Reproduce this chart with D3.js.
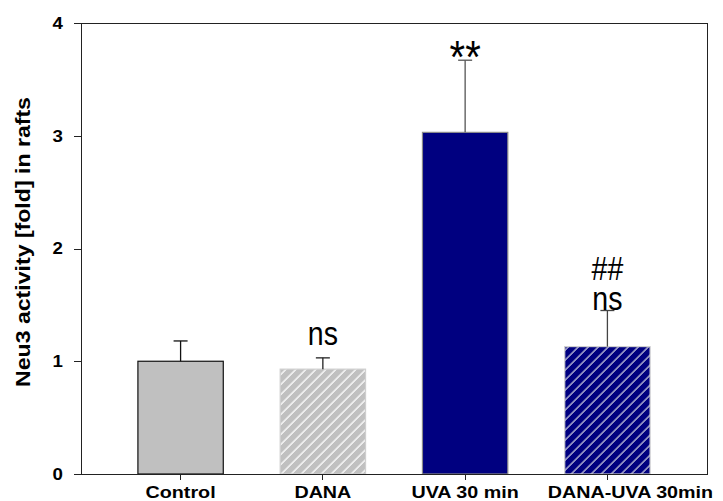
<!DOCTYPE html>
<html>
<head>
<meta charset="utf-8">
<script src="https://cdn.jsdelivr.net/npm/d3@7"></script>
<style>
  body { margin: 0; background: #fff; }
  .axis path, .axis line { stroke: #222; shape-rendering: crispEdges; }
  .axis text { font-family: "Liberation Sans", Arial, sans-serif; font-weight: bold; font-size: 17px; fill: #000; }
  .note { font-family: "Liberation Sans", Arial, sans-serif; fill: #000; }
</style>
</head>
<body>
<div id="chart"></div>
<script>
// data
var categories = ["Control", "DANA", "UVA 30 min", "DANA-UVA 30min"];
var means      = [1.00, 0.93, 3.03, 1.13];
var errors     = [0.18, 0.10, 0.64, 0.32];
var yTicks     = [0, 1, 2, 3, 4];

// significance notes, placed in data units like the original plot
var noteText = ["ns", "**", "##", "ns"];
var noteCat  = ["DANA", "UVA 30 min", "DANA-UVA 30min", "DANA-UVA 30min"];
var noteY    = [1.144, 3.56, 1.72, 1.455];

// set the dimensions and margins of the graph
var W = 723, H = 501;
var margin = {top: 23, right: 16, bottom: 27, left: 81},
    width = W - margin.left - margin.right,
    height = H - margin.top - margin.bottom;

// bar looks
var fills   = ["#c0c0c0", "url(#hatchGrey)", "#000080", "url(#hatchNavy)"];
var strokes = ["#111", "#cfcfcf", "#8a8a8a", "#cfcfcf"];
var errCol  = ["#111", "#222", "#555", "#444"];

var svg = d3.select("#chart").append("svg")
    .attr("width", W)
    .attr("height", H);

// hatch patterns
var defs = svg.append("defs");
function hatch(id, bg, fg) {
  var p = defs.append("pattern")
      .attr("id", id)
      .attr("patternUnits", "userSpaceOnUse")
      .attr("width", 7.07)
      .attr("height", 7.07)
      .attr("patternTransform", "rotate(45)");
  p.append("rect").attr("width", 7.07).attr("height", 7.07).attr("fill", bg);
  p.append("line")
      .attr("x1", 1).attr("y1", 0).attr("x2", 1).attr("y2", 7.07)
      .attr("stroke", fg).attr("stroke-width", 1.3);
}
hatch("hatchGrey", "#c0c0c0", "#ffffff");
hatch("hatchNavy", "#000080", "#c8c8dc");

var g = svg.append("g")
    .attr("transform", "translate(" + margin.left + "," + margin.top + ")");

// set the ranges
var x = d3.scaleBand()
    .domain(categories)
    .range([0, width])
    .paddingInner(0.4)
    .paddingOuter(0.4);
var y = d3.scaleLinear().domain([0, 4]).range([height, 0]);

var rows = categories.map(function(c, i) {
  return {cat: c, mean: means[i], err: errors[i], i: i};
});
var cx = function(d) { return x(d.cat) + x.bandwidth() / 2; };

// bars
g.selectAll(".bar")
    .data(rows)
  .enter().append("rect")
    .attr("class", "bar")
    .attr("x", function(d) { return x(d.cat); })
    .attr("y", function(d) { return y(d.mean); })
    .attr("width", x.bandwidth())
    .attr("height", function(d) { return height - y(d.mean); })
    .attr("fill", function(d) { return fills[d.i]; })
    .attr("stroke", function(d) { return strokes[d.i]; })
    .attr("stroke-width", 1.2);

// error bars (upper only)
var eb = g.selectAll(".err")
    .data(rows)
  .enter().append("g")
    .attr("class", "err")
    .attr("stroke", function(d) { return errCol[d.i]; })
    .attr("stroke-width", 1.3);
eb.append("line")
    .attr("x1", cx).attr("x2", cx)
    .attr("y1", function(d) { return y(d.mean); })
    .attr("y2", function(d) { return y(d.mean + d.err); });
eb.append("line")
    .attr("x1", function(d) { return cx(d) - 7; })
    .attr("x2", function(d) { return cx(d) + 7; })
    .attr("y1", function(d) { return y(d.mean + d.err); })
    .attr("y2", function(d) { return y(d.mean + d.err); });

// significance labels
var notes = noteText.map(function(t, i) { return {t: t, cat: noteCat[i], v: noteY[i]}; });
g.selectAll(".note")
    .data(notes)
  .enter().append("text")
    .attr("class", "note")
    .attr("text-anchor", "middle")
    .attr("transform", function(d) {
      var px = x(d.cat) + x.bandwidth() / 2;
      var s = d.t === "**" ? "scale(1,1.15)" : "scale(0.95,1.12)";
      return "translate(" + px + "," + y(d.v) + ") " + s;
    })
    .style("font-size", function(d) { return d.t === "**" ? "40px" : "30px"; })
    .text(function(d) { return d.t; });

// frame: top and right
g.append("line")
    .attr("x1", 0).attr("x2", width).attr("y1", 0).attr("y2", 0)
    .attr("stroke", "#222").attr("shape-rendering", "crispEdges");
g.append("line")
    .attr("x1", width).attr("x2", width).attr("y1", 0).attr("y2", height)
    .attr("stroke", "#222").attr("shape-rendering", "crispEdges");

// Add the X Axis
var xAxis = g.append("g")
    .attr("class", "axis")
    .attr("transform", "translate(0," + height + ")")
    .call(d3.axisBottom(x).tickSizeInner(6).tickSizeOuter(0).tickPadding(6));
xAxis.selectAll(".tick text")
    .attr("transform", function(d, i) {
      return (i === categories.length - 1 ? "translate(23,0) " : "") + "scale(1.16,1)";
    });

// Add the Y Axis
var yAxis = g.append("g")
    .attr("class", "axis")
    .call(d3.axisLeft(y).tickValues(yTicks).tickFormat(d3.format("d"))
      .tickSizeInner(7).tickSizeOuter(0).tickPadding(11));
yAxis.selectAll(".tick text")
    .attr("x", -18 / 1.1)
    .attr("transform", "scale(1.1,1)");

// y title
svg.append("text")
    .attr("transform", "translate(30,242) rotate(-90) scale(1.1,1)")
    .attr("text-anchor", "middle")
    .style("font-family", "Liberation Sans, Arial, sans-serif")
    .style("font-weight", "bold")
    .style("font-size", "21px")
    .text("Neu3 activity [fold] in rafts");
</script>
</body>
</html>
